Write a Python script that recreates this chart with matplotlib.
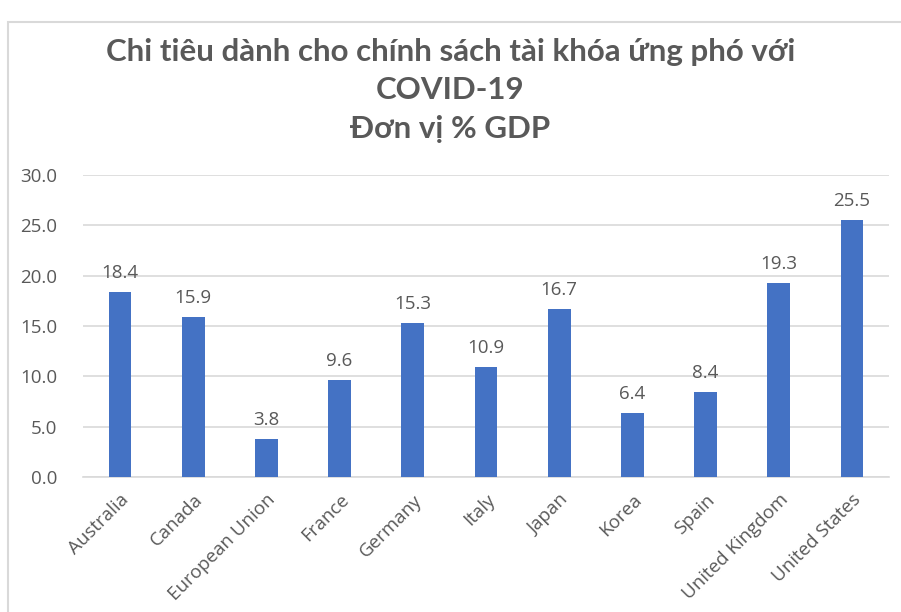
import matplotlib.pyplot as plt
from matplotlib.patches import Rectangle

countries = ['Australia', 'Canada', 'European Union', 'France', 'Germany', 'Italy',
             'Japan', 'Korea', 'Spain', 'United Kingdom', 'United States']
spending = [18.4, 15.9, 3.8, 9.6, 15.3, 10.9, 16.7, 6.4, 8.4, 19.3, 25.5]
yticks = [0, 5, 10, 15, 20, 25, 30]

TEXT = '#595959'
BLUE = '#4472C4'
GRID = '#D9D9D9'

plt.rcParams['font.family'] = ['Open Sans', 'DejaVu Sans']

fig = plt.figure(figsize=(9.01, 6.12), dpi=100)
W, H = 901, 612

# chart area border (left and top visible)
fig.patches.append(Rectangle((8 / W, -0.1), 1.2, (H - 22) / H + 0.1,
                             transform=fig.transFigure, fill=False,
                             edgecolor=GRID, linewidth=1.5))

ax = fig.add_axes([83.4 / W, 1 - 477 / H, (888.6 - 83.4) / W, (477 - 175) / H])

x = range(len(countries))
bars = ax.bar(x, spending, width=0.31, color=BLUE, zorder=3)
for xi, v in zip(x, spending):
    ax.text(xi, v + 1.0, f'{v:.1f}', ha='center', va='bottom',
            fontsize=13.5, color=TEXT)

ax.set_xlim(-0.5, len(countries) - 0.5)
ax.set_ylim(0, 30)
ax.set_yticks(yticks)
ax.set_yticklabels([f'{t:.1f}' for t in yticks], fontsize=13.5, color=TEXT)
ax.set_xticks(list(x))
ax.set_xticklabels(countries, rotation=45, ha='right', rotation_mode='anchor',
                   fontsize=13.5, color=TEXT)
ax.tick_params(length=0)
ax.tick_params(axis='y', pad=19)
ax.tick_params(axis='x', pad=10)
ax.grid(axis='y', color=GRID, linewidth=1.2, zorder=0)
for s in ['top', 'right', 'left']:
    ax.spines[s].set_visible(False)
ax.spines['bottom'].set_color(GRID)
ax.spines['bottom'].set_linewidth(1.2)

title_font = dict(ha='center', va='center', fontsize=22.5, fontweight='bold',
                  color=TEXT, family=['Lato', 'DejaVu Sans'])
fig.text(0.5, 1 - 52 / H, 'Chi tiêu dành cho chính sách tài khóa ứng phó với', **title_font)
fig.text(0.5, 1 - 90 / H, 'COVID-19', **title_font)
fig.text(0.5, 1 - 129 / H, 'Đơn vị % GDP', **title_font)

fig.savefig('out.png', dpi=100)
